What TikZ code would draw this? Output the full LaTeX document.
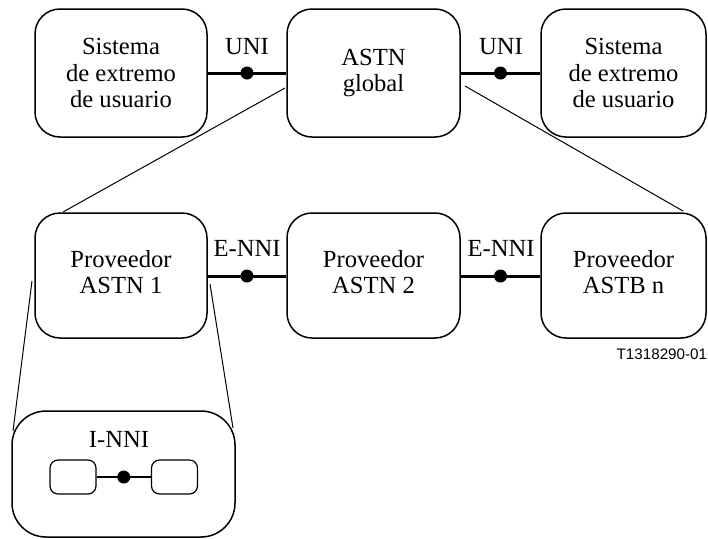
\documentclass[tikz,border=0pt]{standalone}
\usepackage{fontspec}
\setmainfont{Liberation Serif}
\newfontfamily\labelsans{Liberation Sans}
\newcommand{\twolines}[3][2.75pt]{\raisebox{#1}{\begin{tabular}{@{}c@{}}#2\\#3\end{tabular}}}
\begin{document}
\begin{tikzpicture}[x=0.5pt,y=-0.5pt,
  box/.style={draw, line width=0.75pt, rounded corners=12.5pt, align=center,
    font=\fontsize{12.3}{13.2}\selectfont, inner sep=0pt},
  minibox/.style={draw, line width=0.6pt, rounded corners=4pt, inner sep=0pt,
    minimum width=23pt, minimum height=17pt},
  iface/.style={line width=1.5pt},
  thin/.style={line width=0.5pt},
  dot/.style={circle, fill=black, inner sep=0pt, minimum size=6.5pt},
  lbl/.style={font=\fontsize{12.3}{13.2}\selectfont, inner sep=0pt}]
\useasboundingbox (0,0) rectangle (708,538);

% upper row
\node[box, minimum width=86pt, minimum height=64pt] (u1) at (121,73)
  {Sistema\\de extremo\\de usuario};
\node[box, minimum width=86.5pt, minimum height=64pt] (g) at (373.5,73)
  {\twolines[-1.5pt]{ASTN}{global}};
\node[box, minimum width=82.5pt, minimum height=64pt] (u2) at (623.5,73)
  {Sistema\\de extremo\\de usuario};

% provider row
\node[box, minimum width=86pt, minimum height=62.5pt] (p1) at (121,275.5)
  {\twolines{Proveedor}{ASTN 1}};
\node[box, minimum width=86.5pt, minimum height=62.5pt] (p2) at (373.5,275.5)
  {\twolines{Proveedor}{ASTN 2}};
\node[box, minimum width=82.5pt, minimum height=62.5pt] (pn) at (623.5,275.5)
  {\twolines{Proveedor}{ASTB n}};

% detail of provider 1
\node[draw, line width=0.75pt, rounded corners=17pt, inner sep=0pt,
  minimum width=111.5pt, minimum height=63pt] (d) at (123.5,474) {};
\node[lbl] (inni) at (119,439) {I-NNI};
\node[minibox] (m1) at (73,477) {};
\node[minibox] (m2) at (174.5,477) {};
\draw[line width=1.2pt] (m1.east) -- node[dot, pos=0.5] (dm) {} (m2.west);

% interfaces
\draw[iface] (u1.east) -- node[dot] (d1) {} (g.west);
\draw[iface] (g.east) -- node[dot] (d2) {} (u2.west);
\draw[iface] (p1.east |- 0,276) -- node[dot] (d3) {} (p2.west |- 0,276);
\draw[iface] (p2.east |- 0,276) -- node[dot] (d4) {} (pn.west |- 0,276);
\node[lbl] (l1) at (247,47) {UNI};
\node[lbl] (l2) at (501,47) {UNI};
\node[lbl] (l3) at (247,248) {E-NNI};
\node[lbl] (l4) at (501,248) {E-NNI};

% expansion lines
\coordinate (ga) at (285,88);
\coordinate (gb) at (465,86);
\coordinate (pa) at (63,212);
\coordinate (pb) at (683,211);
\draw[thin] (ga) -- (pa);
\draw[thin] (gb) -- (pb);
\coordinate (qa) at (32,281);
\coordinate (qb) at (210,284);
\coordinate (da) at (13,431);
\coordinate (db) at (233,428);
\draw[thin] (qa) -- (da);
\draw[thin] (qb) -- (db);

% figure reference
\node[font=\labelsans\fontsize{7.6}{8}\selectfont, anchor=east, inner sep=0pt]
  (ref) at (707.5,354) {T1318290-01};
\end{tikzpicture}
\end{document}
